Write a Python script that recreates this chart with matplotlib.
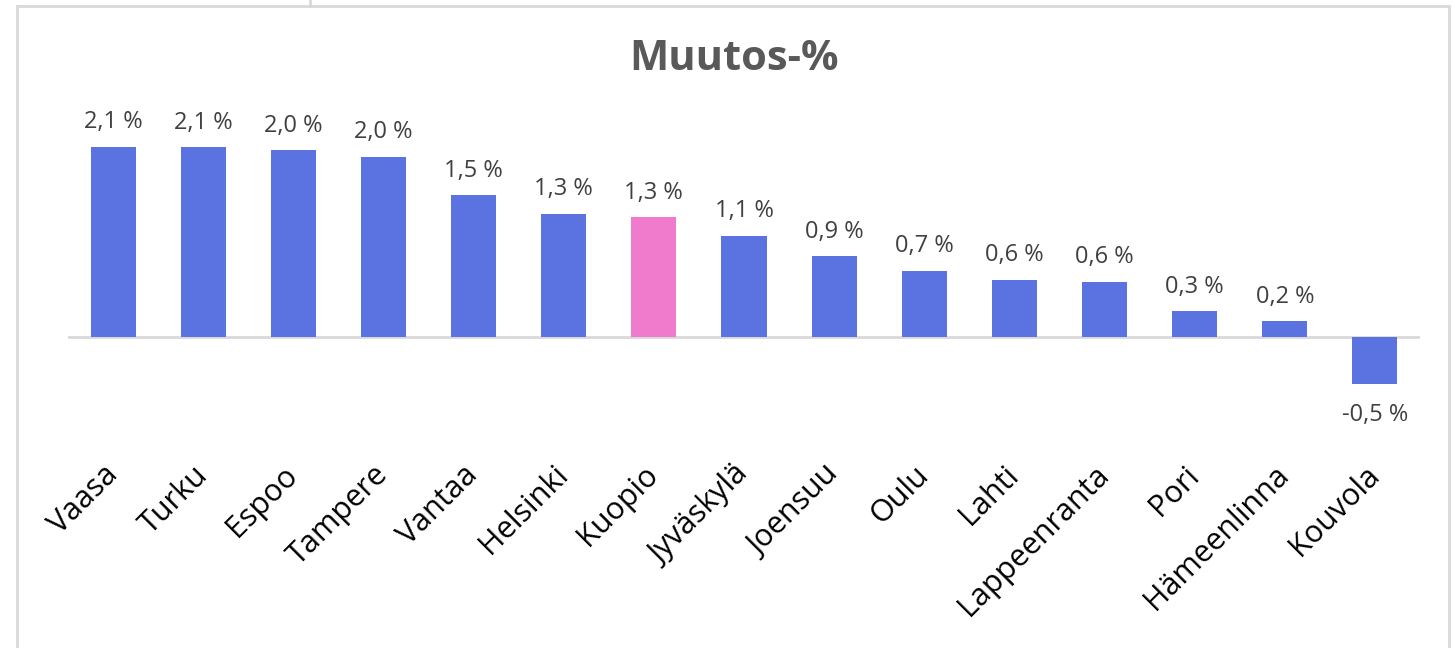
import matplotlib
matplotlib.use("Agg")
import matplotlib.pyplot as plt
from matplotlib.lines import Line2D
from matplotlib.patches import Rectangle
from matplotlib.transforms import ScaledTranslation

plt.rcParams['font.family'] = ['Open Sans', 'DejaVu Sans']

kaupungit = ['Vaasa', 'Turku', 'Espoo', 'Tampere', 'Vantaa', 'Helsinki', 'Kuopio',
             'Jyväskylä', 'Joensuu', 'Oulu', 'Lahti', 'Lappeenranta', 'Pori',
             'Hämeenlinna', 'Kouvola']
muutos = [2.07, 2.06, 2.03, 1.96, 1.54, 1.34, 1.30, 1.10, 0.88, 0.72, 0.62, 0.60,
          0.28, 0.17, -0.51]
korostus = 'Kuopio'

sininen = '#5B73E0'
pinkki = '#F07ACB'
teksti = '#404040'
harmaa = '#D9D9D9'

W, H = 1455, 648
fig = plt.figure(figsize=(W / 100, H / 100), dpi=100)

# kehys
fig.add_artist(Rectangle((17 / W, -0.05), (1449 - 17) / W, 1.05 - 6 / H,
                         transform=fig.transFigure, fill=False, edgecolor=harmaa, lw=2))
fig.add_artist(Line2D([310 / W, 310 / W], [1, 1 - 6 / H], transform=fig.transFigure,
                      color=harmaa, lw=2))

ax_top, ax_bot = 100, 440
ax = fig.add_axes([68 / W, (H - ax_bot) / H, (1420 - 68) / W, (ax_bot - ax_top) / H])
skaala = 92.0
ax.set_ylim(-(ax_bot - 337) / skaala, (337 - ax_top) / skaala)
ax.set_xlim(-0.5, len(kaupungit) - 0.5)

x = list(range(len(kaupungit)))
varit = [pinkki if k == korostus else sininen for k in kaupungit]
ax.bar(x, muutos, width=0.5, color=varit, zorder=2)
ax.axhline(0, color=harmaa, lw=2, zorder=1)

for xi, v in zip(x, muutos):
    s = f"{v:.1f} %".replace('.', ',')
    if v >= 0:
        ax.annotate(s, (xi, v), xytext=(0, 9), textcoords='offset points',
                    ha='center', va='bottom', fontsize=17, color=teksti)
    else:
        ax.annotate(s, (xi, v), xytext=(0, -14), textcoords='offset points',
                    ha='center', va='top', fontsize=17, color=teksti)

ax.set_xticks(x)
ax.set_xticklabels(kaupungit, rotation=45, ha='right', va='center',
                   rotation_mode='anchor', fontsize=22, color='black')
siirto = ScaledTranslation(-8 / 72, -2 / 72, fig.dpi_scale_trans)
for lab in ax.get_xticklabels():
    lab.set_transform(lab.get_transform() + siirto)
ax.tick_params(axis='x', length=0, pad=22)
ax.set_yticks([])
for sp in ax.spines.values():
    sp.set_visible(False)

fig.text(734 / W, 1 - 59 / H, 'Muutos-%', ha='center', va='center', fontsize=30,
         fontweight='bold', color='#595959')

fig.savefig('out.png', dpi=100)
